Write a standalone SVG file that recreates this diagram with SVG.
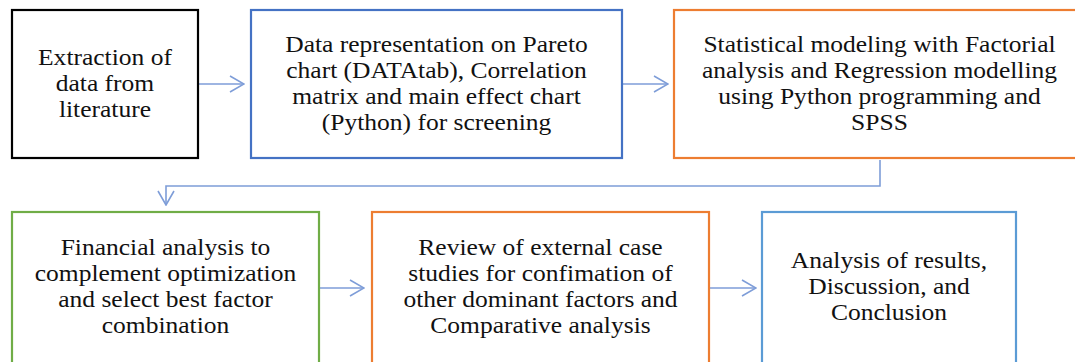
<svg xmlns="http://www.w3.org/2000/svg" width="1075" height="362" viewBox="0 0 1075 362">
<style>
.box{fill:#ffffff;stroke-width:2.2}
.t{font-family:'Liberation Serif','Times New Roman',serif;font-size:23px;fill:#111111;text-anchor:middle}
.c{fill:none;stroke:#7e9dd8;stroke-width:1.6}
</style>
<defs>
<marker id="arr" viewBox="0 0 16 18" refX="15" refY="9" markerWidth="16" markerHeight="18" markerUnits="userSpaceOnUse" orient="auto">
<path d="M1,1 L15,9 L1,17" fill="none" stroke="#7e9dd8" stroke-width="1.6"/>
</marker>
</defs>
<rect width="1075" height="362" fill="#ffffff"/>
<g id="connectors">
<line class="c" x1="199" y1="84" x2="244" y2="84" marker-end="url(#arr)"/>
<line class="c" x1="623" y1="84" x2="668" y2="84" marker-end="url(#arr)"/>
<polyline class="c" points="880,160 880,186 166,186 166,205" marker-end="url(#arr)"/>
<line class="c" x1="320" y1="288" x2="364" y2="288" marker-end="url(#arr)"/>
<line class="c" x1="710" y1="288" x2="756" y2="288" marker-end="url(#arr)"/>
</g>
<g id="n1">
<rect class="box" x="12" y="10" width="186" height="148" stroke="#000000"/>
<g transform="scale(1.11 1)" class="t">
<text x="94.59" y="65">Extraction of</text>
<text x="94.59" y="91">data from</text>
<text x="94.59" y="117">literature</text>
</g>
</g>
<g id="n2">
<rect class="box" x="251" y="10" width="371" height="148" stroke="#4472c4"/>
<g transform="scale(1.11 1)" class="t">
<text x="393.24" y="52">Data representation on Pareto</text>
<text x="393.24" y="78">chart (DATAtab), Correlation</text>
<text x="393.24" y="104">matrix and main effect chart</text>
<text x="393.24" y="130">(Python) for screening</text>
</g>
</g>
<g id="n3">
<rect class="box" x="674" y="10" width="412" height="148" stroke="#ed7d31"/>
<g transform="scale(1.11 1)" class="t">
<text x="792.34" y="52">Statistical modeling with Factorial</text>
<text x="792.34" y="78">analysis and Regression modelling</text>
<text x="792.34" y="104">using Python programming and</text>
<text x="792.34" y="130">SPSS</text>
</g>
</g>
<g id="n4">
<rect class="box" x="12" y="212" width="307" height="160" stroke="#70ad47"/>
<g transform="scale(1.11 1)" class="t">
<text x="149.10" y="255">Financial analysis to</text>
<text x="149.10" y="281">complement optimization</text>
<text x="149.10" y="307">and select best factor</text>
<text x="149.10" y="333">combination</text>
</g>
</g>
<g id="n5">
<rect class="box" x="372" y="212" width="337" height="160" stroke="#ed7d31"/>
<g transform="scale(1.11 1)" class="t">
<text x="486.94" y="255">Review of external case</text>
<text x="486.94" y="281">studies for confimation of</text>
<text x="486.94" y="307">other dominant factors and</text>
<text x="486.94" y="333">Comparative analysis</text>
</g>
</g>
<g id="n6">
<rect class="box" x="762" y="212" width="254" height="160" stroke="#5b9bd5"/>
<g transform="scale(1.11 1)" class="t">
<text x="800.90" y="268">Analysis of results,</text>
<text x="800.90" y="294">Discussion, and</text>
<text x="800.90" y="320">Conclusion</text>
</g>
</g>
</svg>
